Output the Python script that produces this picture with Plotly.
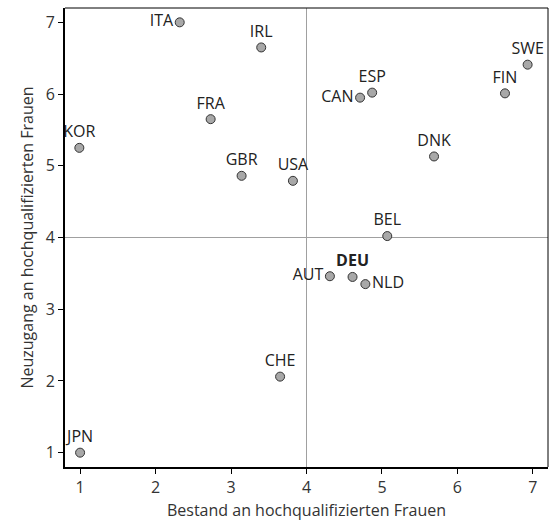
import plotly.graph_objects as go

countries = ["ITA", "IRL", "FRA", "KOR", "GBR", "USA", "CAN", "ESP", "FIN", "SWE",
             "DNK", "BEL", "AUT", "DEU", "NLD", "CHE", "JPN"]
bestand = [2.32, 3.40, 2.73, 0.99, 3.14, 3.82, 4.71, 4.87, 6.63, 6.93,
           5.69, 5.07, 4.31, 4.61, 4.78, 3.65, 1.00]
neuzugang = [7.00, 6.65, 5.65, 5.25, 4.86, 4.79, 5.95, 6.02, 6.01, 6.41,
             5.13, 4.02, 3.46, 3.45, 3.35, 2.06, 1.00]
label_pos = ["middle left", "top center", "top center", "top center", "top center",
             "top center", "middle left", "top center", "top center", "top center",
             "top center", "top center", "middle left", "top center", "middle right",
             "top center", "top center"]
ticks = [1, 2, 3, 4, 5, 6, 7]

labels = ["<b>DEU</b>" if c == "DEU" else c for c in countries]

FONT = "Open Sans"

fig = go.Figure()
fig.add_trace(go.Scatter(
    x=bestand, y=neuzugang, mode="markers+text",
    text=labels, textposition=label_pos,
    textfont=dict(family=FONT, size=16, color="#222222"),
    marker=dict(size=9, color="#a8a8a8", line=dict(color="#333333", width=1)),
    hoverinfo="text", cliponaxis=False,
))

# reference lines at 4
fig.add_shape(type="line", xref="x", yref="paper", x0=4, x1=4, y0=0, y1=1,
              line=dict(color="#a0a0a0", width=1), layer="below")
fig.add_shape(type="line", xref="paper", yref="y", x0=0, x1=1, y0=4, y1=4,
              line=dict(color="#a0a0a0", width=1), layer="below")
# thin top/right frame
fig.add_shape(type="line", xref="paper", yref="paper", x0=0, x1=1, y0=1, y1=1,
              line=dict(color="#000000", width=1))
fig.add_shape(type="line", xref="paper", yref="paper", x0=1, x1=1, y0=0, y1=1,
              line=dict(color="#000000", width=1))

axis_common = dict(
    range=[0.8, 7.2], tickvals=ticks, ticks="outside", ticklen=5, tickwidth=1,
    tickcolor="#000000", showgrid=False, zeroline=False, showline=True,
    linecolor="#000000", linewidth=2,
    tickfont=dict(family=FONT, size=16, color="#333333"),
)

fig.update_layout(
    width=555, height=528,
    margin=dict(l=65, r=7, t=8, b=61),
    paper_bgcolor="white", plot_bgcolor="white",
    showlegend=False,
    font=dict(family=FONT),
    xaxis=dict(**axis_common,
               title=dict(text="Bestand an hochqualifizierten Frauen",
                          font=dict(family=FONT, size=16, color="#333333"), standoff=8)),
    yaxis=dict(**axis_common,
               title=dict(text="Neuzugang an hochqualifizierten Frauen",
                          font=dict(family=FONT, size=16, color="#333333"), standoff=8)),
)

fig.write_html("out.html", config={"displayModeBar": False},
               post_script="document.body.style.margin='0';")
